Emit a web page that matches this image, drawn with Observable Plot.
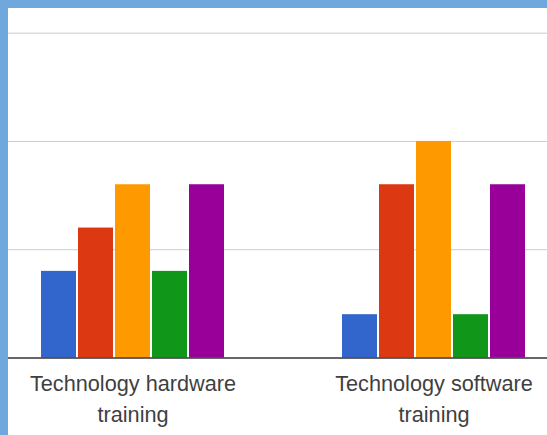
<!DOCTYPE html>
<html>
<head>
<meta charset="utf-8">
<script src="https://cdn.jsdelivr.net/npm/d3@7"></script>
<script src="https://cdn.jsdelivr.net/npm/@observablehq/plot@0.6"></script>
<style>
  html, body { margin: 0; padding: 0; background: #ffffff; overflow: hidden; }
  #chart {
    width: 539px;
    height: 427px;
    border-left: 8px solid #6fa8dc;
    border-top: 8px solid #6fa8dc;
    overflow: hidden;
    background: #ffffff;
  }
  #chart svg { max-width: none !important; width: 602px; height: 427px; }
</style>
</head>
<body>
<div id="chart"></div>
<script>
// Training categories (one bar group each)
const categories = ["Technology hardware\ntraining", "Technology software\ntraining"];

// Five response series, in drawing order within each group
const series = ["A", "B", "C", "D", "E"];
const seriesColors = ["#3366cc", "#dc3912", "#ff9900", "#109618", "#990099"];

// Values per series for each category
const hardwareValues = [2, 3, 4, 2, 4];
const softwareValues = [1, 4, 5, 1, 4];

// Horizontal gridline values
const gridTicks = [2.5, 5, 7.5];

const rows = [
  ...series.map((s, i) => ({category: categories[0], series: s, value: hardwareValues[i]})),
  ...series.map((s, i) => ({category: categories[1], series: s, value: softwareValues[i]}))
];

const chart = Plot.plot({
  width: 602,
  height: 427,
  marginTop: 3,
  marginBottom: 77.5,
  marginLeft: 0,
  marginRight: 0,
  style: {background: "#ffffff", fontFamily: "'Liberation Sans', Arial, sans-serif", maxWidth: "none"},
  facet: {data: rows, x: "category"},
  fx: {domain: categories, padding: 0, axis: null},
  x: {domain: series, paddingInner: 0.06, paddingOuter: 1.549, align: 0.276, axis: null},
  y: {domain: [0, 8], axis: null},
  color: {domain: series, range: seriesColors},
  marks: [
    Plot.ruleY(gridTicks, {stroke: "#cccccc", strokeWidth: 1}),
    Plot.barY(rows, {x: "series", y: "value", fill: "series"}),
    Plot.ruleY([0], {stroke: "#333333", strokeWidth: 1.5}),
    Plot.text(rows, {
      filter: d => d.series === series[2],
      x: "series",
      text: "category",
      frameAnchor: "bottom",
      lineAnchor: "top",
      lineHeight: 1.43,
      dy: 11,
      fontSize: 21.7,
      fill: "#3f3f3f"
    })
  ]
});

document.getElementById("chart").appendChild(chart);
</script>
</body>
</html>
